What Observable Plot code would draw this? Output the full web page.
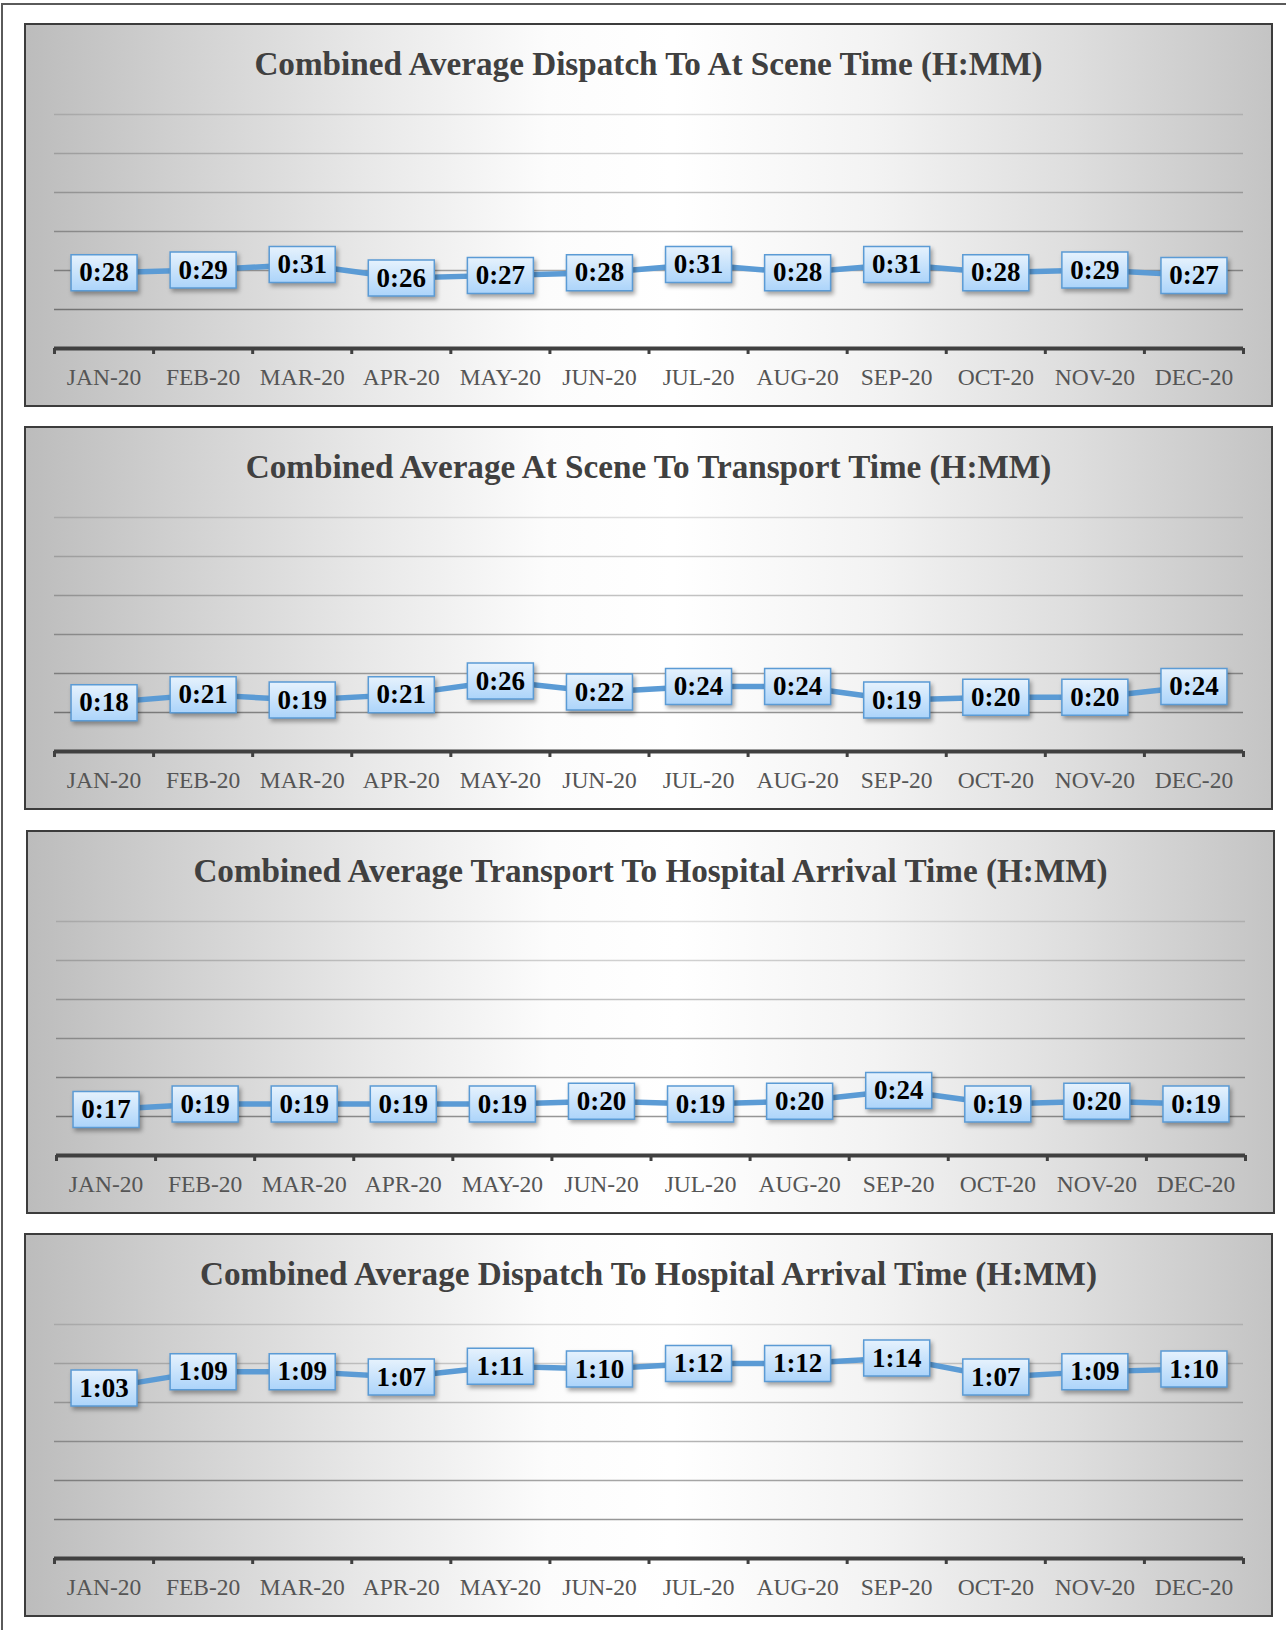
<!DOCTYPE html>
<html>
<head>
<meta charset="utf-8">
<script src="https://cdn.jsdelivr.net/npm/d3@7"></script>
<script src="https://cdn.jsdelivr.net/npm/@observablehq/plot@0.6"></script>
<style>
  body { margin: 0; width: 1286px; height: 1630px; background: #fff; position: relative; overflow: hidden;
         font-family: "Liberation Serif", Cambria, "Times New Roman", serif; }
  #frame { position: absolute; left: 1px; top: 3px; width: 1400px; height: 1700px;
           border-left: 2px solid #5a5a5a; border-top: 2px solid #5a5a5a; }
  .panel { position: absolute; width: 1249px; height: 384px; box-sizing: border-box; border: 2px solid #3c3c3c;
           background: linear-gradient(90deg, #bcbcbc 0%, #d0d0d0 12%, #e9e9e9 28%, #fcfcfc 42%, #ffffff 52%, #f3f3f3 68%, #dedede 84%, #c4c4c4 100%); }
  .title { position: absolute; left: 0; right: 0; top: 22px; text-align: center; font-weight: bold;
           font-size: 33.2px; line-height: 1; color: #404040; white-space: nowrap; }
  .chart { position: absolute; left: 0; top: 78px; }
  g[aria-label="dot"] path { filter: drop-shadow(2px 3px 2px rgba(0,0,0,0.35)); }
</style>
</head>
<body>
<div id="frame"></div>
<div id="root"></div>
<script>
// ---- data (minutes) ----
const months = ["JAN-20","FEB-20","MAR-20","APR-20","MAY-20","JUN-20","JUL-20","AUG-20","SEP-20","OCT-20","NOV-20","DEC-20"];
const titles = [
  "Combined Average Dispatch To At Scene Time (H:MM)",
  "Combined Average At Scene To Transport Time (H:MM)",
  "Combined Average Transport To Hospital Arrival Time (H:MM)",
  "Combined Average Dispatch To Hospital Arrival Time (H:MM)"
];
const dispatchToScene     = [28, 29, 31, 26, 27, 28, 31, 28, 31, 28, 29, 27];
const sceneToTransport    = [18, 21, 19, 21, 26, 22, 24, 24, 19, 20, 20, 24];
const transportToHospital = [17, 19, 19, 19, 19, 20, 19, 20, 24, 19, 20, 19];
const dispatchToHospital  = [63, 69, 69, 67, 71, 70, 72, 72, 74, 67, 69, 70];
// y axis grid: 0.01 day steps (14.4 min) up to 0.06 day
const gridMinutes = [14.4, 28.8, 43.2, 57.6, 72, 86.4];
const yMax = 86.4;

const series = [dispatchToScene, sceneToTransport, transportToHospital, dispatchToHospital];
const panelPos = [[24, 23], [24, 426], [26, 830], [24, 1233]];

const fmt = m => Math.floor(m / 60) + ":" + String(m % 60).padStart(2, "0");
const boxSymbol = { draw(ctx) { ctx.rect(-33, -18, 66, 36); } };
const fontFamily = '"Liberation Serif", Cambria, "Times New Roman", serif';

const root = document.getElementById("root");
series.forEach((values, k) => {
  const panel = document.createElement("div");
  panel.className = "panel";
  panel.style.left = panelPos[k][0] + "px";
  panel.style.top = panelPos[k][1] + "px";
  const title = document.createElement("div");
  title.className = "title";
  title.textContent = titles[k];
  panel.appendChild(title);

  const xi = (d, i) => i + 0.5;
  const chart = Plot.plot({
    width: 1245, height: 300,
    marginTop: 11, marginBottom: 55, marginLeft: 28, marginRight: 28,
    x: { type: "linear", domain: [0, 12] },
    y: { domain: [0, yMax], axis: null },
    style: { fontFamily, background: "transparent", overflow: "visible" },
    marks: [
      Plot.ruleY(gridMinutes, { stroke: "#000", strokeWidth: 1.5, strokeOpacity: d => 0.46 - 0.056 * (d / 14.4) }),
      Plot.ruleY([0], { stroke: "#404040", strokeWidth: 4 }),
      Plot.axisX(d3.range(13), { anchor: "bottom", tickSize: 6, strokeWidth: 3, stroke: "#404040", tickFormat: () => "", label: null }),
      Plot.text(months, { x: xi, y: () => 0, dy: 29, fontSize: 23.5, fill: "#555555" }),
      Plot.line(values, { x: xi, y: d => d, stroke: "#5b9bd5", strokeWidth: 5.5 }),
      Plot.dot(values, { x: xi, y: d => d, symbol: boxSymbol, fill: `url(#boxGrad${k})`, stroke: "#5b9bd5", strokeWidth: 1.5 }),
      Plot.text(values, { x: xi, y: d => d, text: fmt, fontWeight: "bold", fontSize: 27, fill: "#000" })
    ]
  });
  const defs = d3.select(chart).insert("defs", ":first-child");
  const g = defs.append("linearGradient").attr("id", `boxGrad${k}`)
    .attr("x1", 0).attr("y1", 0).attr("x2", 0).attr("y2", 1);
  g.append("stop").attr("offset", "0%").attr("stop-color", "#e6f2fd");
  g.append("stop").attr("offset", "100%").attr("stop-color", "#acd4fa");
  chart.classList.add("chart");
  panel.appendChild(chart);
  root.appendChild(panel);
});
</script>
</body>
</html>
